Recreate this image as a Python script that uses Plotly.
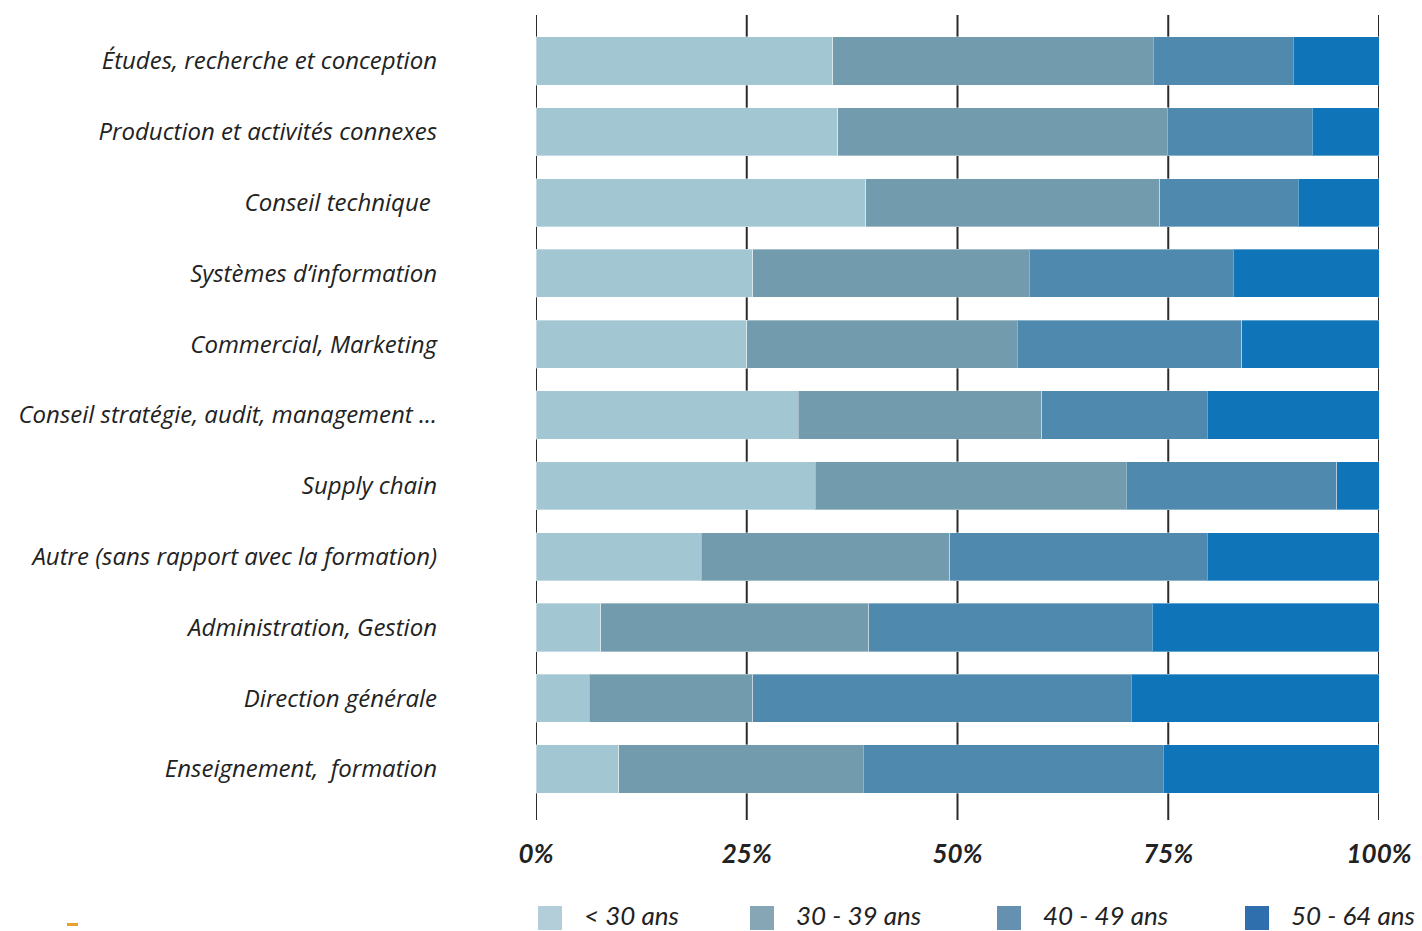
import plotly.graph_objects as go

# Job families (top to bottom)
categories = [
    "Études, recherche et conception",
    "Production et activités connexes",
    "Conseil technique ",
    "Systèmes d’information",
    "Commercial, Marketing",
    "Conseil stratégie, audit, management ...",
    "Supply chain",
    "Autre (sans rapport avec la formation)",
    "Administration, Gestion",
    "Direction générale",
    "Enseignement,\u00a0 formation",
]

# Share of each age group (%)
age_under_30 = [35.2, 35.8, 39.1, 25.7, 25.0, 31.1, 33.1, 19.6, 7.7, 6.3, 9.8]
age_30_39 = [38.0, 39.1, 34.9, 32.8, 32.1, 28.9, 36.9, 29.5, 31.8, 19.4, 29.0]
age_40_49 = [16.6, 17.2, 16.4, 24.2, 26.6, 19.6, 25.0, 30.5, 33.6, 44.9, 35.6]
age_50_64 = [10.2, 7.9, 9.6, 17.3, 16.3, 20.4, 5.0, 20.4, 26.9, 29.4, 25.6]

series_names = ["< 30 ans", "30 - 39 ans", "40 - 49 ans", "50 - 64 ans"]
series_values = [age_under_30, age_30_39, age_40_49, age_50_64]
bar_colors = ["#a2c7d2", "#729bae", "#4f8aae", "#0f75b8"]
legend_colors = ["#b3ced8", "#86a5b5", "#6690b0", "#2f6fae"]

tick_values = [0, 25, 50, 75, 100]
tick_labels = ["0%", "25%", "50%", "75%", "100%"]

W, H = 1422, 931
L, R, T, B = 536, 43, 15, 111
plot_w = W - L - R
plot_h = H - T - B


def px_x(x):
    return (x - L) / plot_w


def px_y(y):
    return (H - B - y) / plot_h


fig = go.Figure()
for name, vals, col in zip(series_names, series_values, bar_colors):
    fig.add_trace(go.Bar(
        x=vals, y=categories, orientation="h", name=name,
        marker=dict(color=col, line=dict(color="rgba(255,255,255,0.35)", width=1)),
        showlegend=False,
        hovertemplate="%{y}<br>" + name + " : %{x:.1f}%<extra></extra>",
    ))

# vertical reference lines behind the bars
for tv in tick_values:
    fig.add_shape(type="line", xref="x", yref="paper", x0=tv, x1=tv, y0=0, y1=1,
                  line=dict(color="#2b2b2b", width=2), layer="below")

# legend drawn below the axis
legend_swatch_x = [538, 750, 997, 1245]
for sx, name, col in zip(legend_swatch_x, series_names, legend_colors):
    fig.add_shape(type="rect", xref="paper", yref="paper",
                  x0=px_x(sx), x1=px_x(sx + 24), y0=px_y(930), y1=px_y(906),
                  fillcolor=col, line=dict(width=0))
    fig.add_annotation(xref="paper", yref="paper", x=px_x(sx + 44), y=px_y(915),
                       text=name, showarrow=False, xanchor="left", yanchor="middle",
                       font=dict(family="Lato", size=26, style="italic", color="#222222"))

# small orange mark at lower left
fig.add_shape(type="rect", xref="paper", yref="paper",
              x0=px_x(67), x1=px_x(78), y0=px_y(926), y1=px_y(923),
              fillcolor="#e8a030", line=dict(width=0))

n = len(categories)
fig.update_layout(
    width=W, height=H,
    margin=dict(l=L, r=R, t=T, b=B, pad=0),
    barmode="stack", bargap=0.32,
    plot_bgcolor="white", paper_bgcolor="white",
    xaxis=dict(range=[0, 100], tickvals=tick_values, ticktext=tick_labels,
               showgrid=False, zeroline=False, showline=False, ticks="",
               automargin=False, ticklabelstandoff=16,
               tickfont=dict(family="Lato", size=26, weight="bold", style="italic",
                             color="#222222")),
    yaxis=dict(type="category", categoryorder="array", categoryarray=categories,
               range=[n - 1 + 0.72, -0.65],
               showgrid=False, zeroline=False, showline=False, ticks="",
               automargin=False, ticklabelstandoff=98,
               tickfont=dict(family="Open Sans", size=24, style="italic",
                             color="#222222")),
)

fig.write_html("out.html")
